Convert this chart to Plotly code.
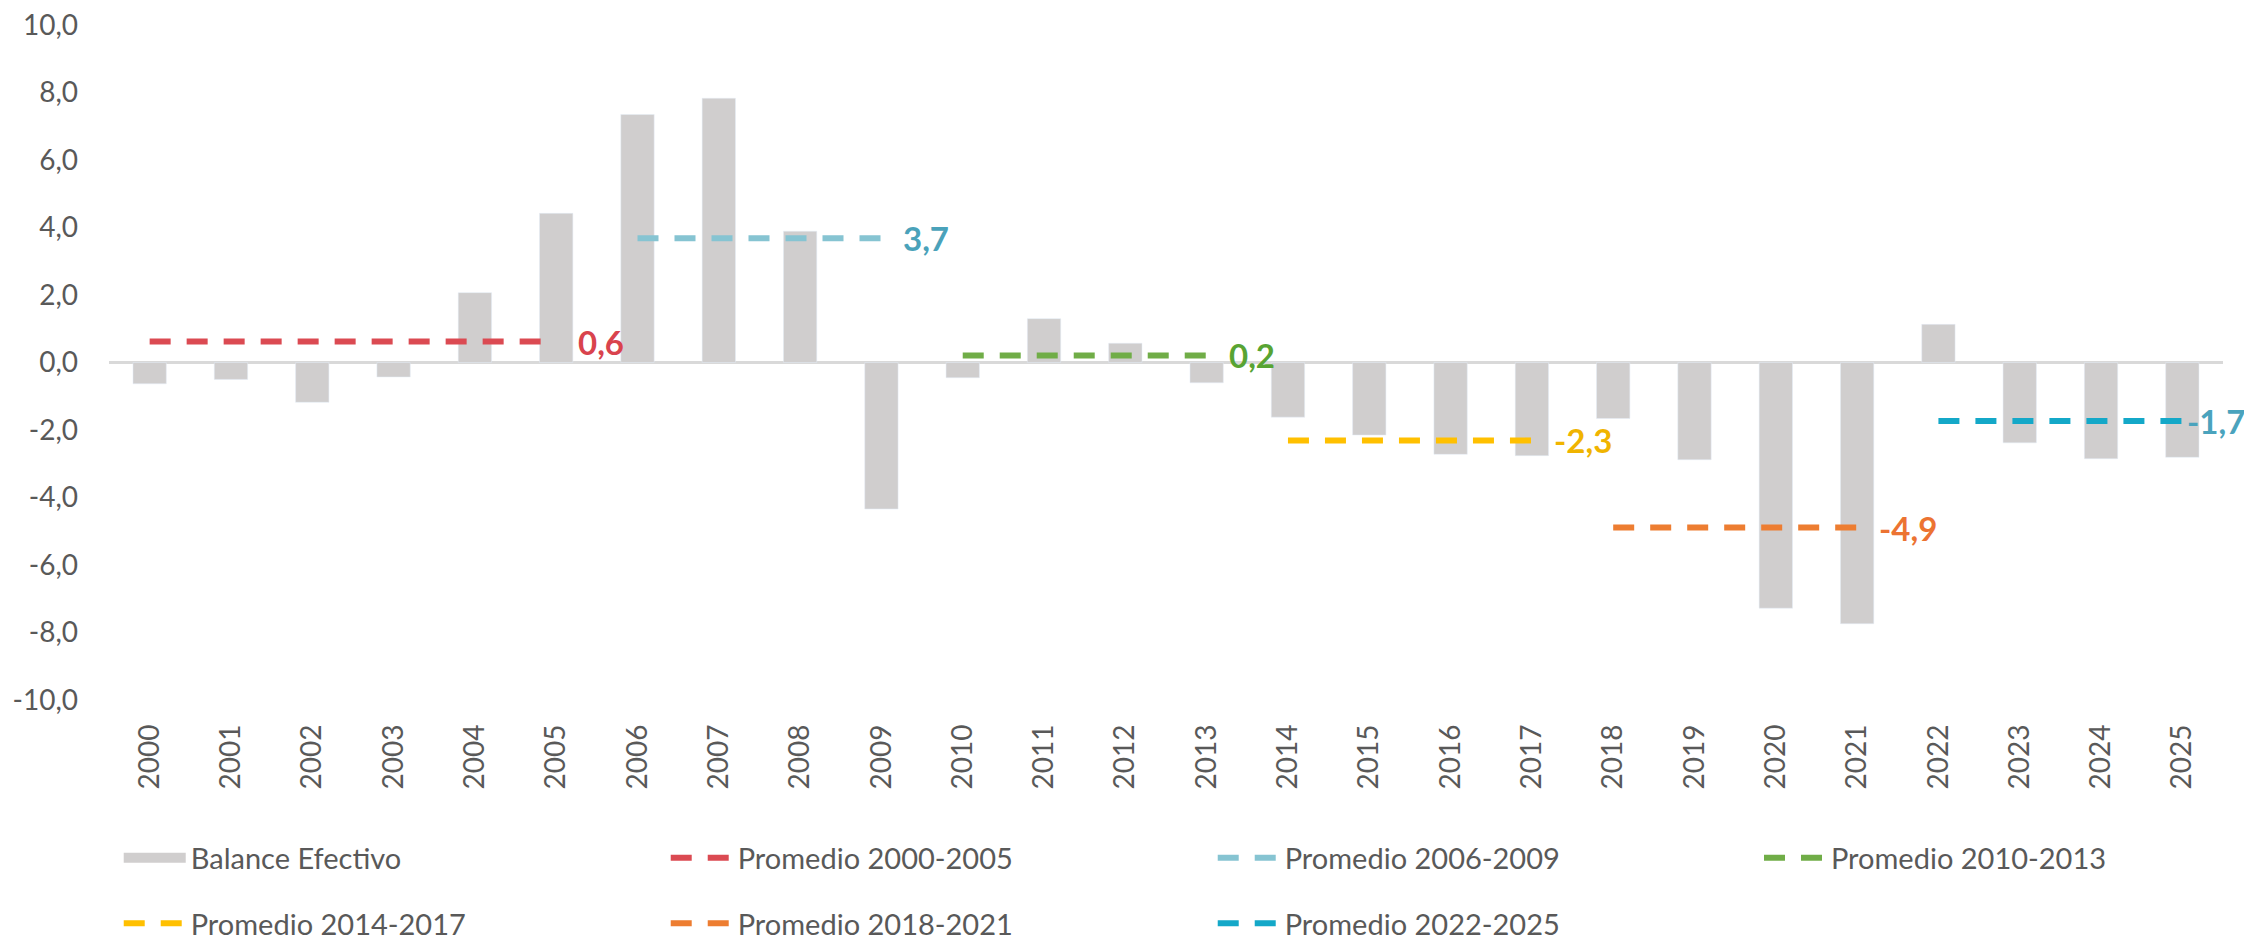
import plotly.graph_objects as go

years = [str(y) for y in range(2000, 2026)]
balance = [-0.63, -0.50, -1.18, -0.43, 2.07, 4.42, 7.35, 7.83, 3.89, -4.34,
           -0.45, 1.30, 0.57, -0.60, -1.62, -2.15, -2.72, -2.76, -1.66, -2.88,
           -7.28, -7.74, 1.13, -2.38, -2.85, -2.81]

y_tick_vals = [-10, -8, -6, -4, -2, 0, 2, 4, 6, 8, 10]
y_tick_text = ["-10,0", "-8,0", "-6,0", "-4,0", "-2,0", "0,0", "2,0", "4,0", "6,0", "8,0", "10,0"]

period_names = ["Promedio 2000-2005", "Promedio 2006-2009", "Promedio 2010-2013",
                "Promedio 2014-2017", "Promedio 2018-2021", "Promedio 2022-2025"]
period_start = ["2000", "2006", "2010", "2014", "2018", "2022"]
period_end = ["2005", "2009", "2013", "2017", "2021", "2025"]
period_avg = [0.62, 3.68, 0.21, -2.31, -4.89, -1.73]
period_label = ["0,6", "3,7", "0,2", "-2,3", "-4,9", "-1,7"]
line_colors = ["#DB4A52", "#86C4D2", "#70AD47", "#FFC000", "#ED7D31", "#14A8C8"]
label_colors = ["#D9434D", "#4AA2BA", "#58A433", "#F0B400", "#EC7332", "#4AA3BD"]
label_shift = [20, 20, 20, 20, 20, 3]
legend_of = ["legend", "legend", "legend3", "legend2", "legend2", "legend2"]

FONT = "Lato, 'Open Sans', sans-serif"
GREY = "#595959"
BAR = "#D0CECE"

fig = go.Figure()

fig.add_trace(go.Bar(x=years, y=balance, marker_color=BAR, width=0.41,
                     name="Balance Efectivo", showlegend=False,
                     legendgroup="bal"))
fig.add_trace(go.Scatter(x=[years[0]], y=[None], mode="lines",
                         line=dict(color=BAR, width=18),
                         name="Balance Efectivo", legendgroup="bal",
                         legend="legend"))

for i, name in enumerate(period_names):
    i0 = years.index(period_start[i])
    i1 = years.index(period_end[i])
    xs = years[i0:i1 + 1]
    ys = [period_avg[i]] * len(xs)
    fig.add_trace(go.Scatter(x=xs, y=ys, mode="lines", name=name,
                             line=dict(color=line_colors[i], width=6, dash="21px,16px"),
                             legend=legend_of[i]))
    fig.add_annotation(x=i1, y=period_avg[i], text="<b>%s</b>" % period_label[i],
                       showarrow=False, xanchor="left", yanchor="middle",
                       xshift=label_shift[i],
                       font=dict(family=FONT, size=33, color=label_colors[i]))

legend_common = dict(orientation="h", xanchor="left", yanchor="middle",
                     font=dict(family=FONT, size=29, color=GREY),
                     entrywidthmode="pixels", itemwidth=62,
                     bgcolor="rgba(0,0,0,0)", traceorder="normal")

fig.update_layout(
    width=2244, height=943,
    margin=dict(l=109, r=21, t=25, b=243, autoexpand=False),
    paper_bgcolor="white", plot_bgcolor="white",
    font=dict(family=FONT, color=GREY),
    legend=dict(x=0.0046, y=-0.234, entrywidth=470, **legend_common),
    legend3=dict(x=0.7805, y=-0.234, entrywidth=300, **legend_common),
    legend2=dict(x=0.0046, y=-0.331, entrywidth=470, **legend_common),
    xaxis=dict(type="category", range=[-0.5, 25.5], tickangle=-90, showgrid=False,
               showline=False, ticks="", ticklabelstandoff=18, automargin=False,
               tickfont=dict(family=FONT, size=28, color=GREY)),
    yaxis=dict(range=[-10, 10], tickvals=y_tick_vals, ticktext=y_tick_text,
               showgrid=False, showline=False, ticks="", ticklabelstandoff=30,
               automargin=False,
               zeroline=True, zerolinecolor="#D9D9D9", zerolinewidth=3,
               tickfont=dict(family=FONT, size=28, color=GREY)),
)

fig.write_html("out.html", config={"displayModeBar": False},
               post_script="document.body.style.margin='0';document.body.style.overflow='hidden';")
